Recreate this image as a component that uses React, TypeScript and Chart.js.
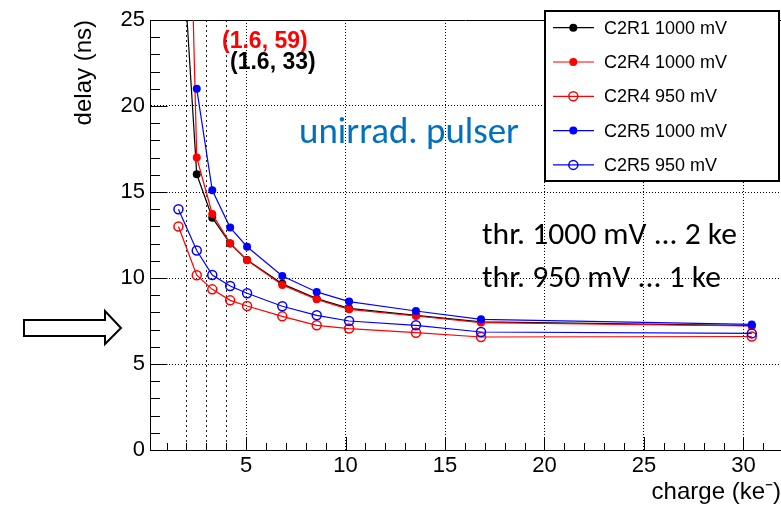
import { useEffect, useRef } from "react";
import { Chart, registerables } from "chart.js";

Chart.register(...registerables);

// ---- data ----
const charge = [1.6, 2.52, 3.3, 4.2, 5.05, 6.82, 8.55, 10.18, 13.54, 16.81, 30.42];
const delayC2R1_1000 = [33, 16.03, 13.51, 12.0, 11.05, 9.66, 8.8, 8.23, 7.83, 7.45, 7.23];
const delayC2R4_1000 = [59, 17.0, 13.72, 12.02, 11.03, 9.6, 8.76, 8.18, 7.79, 7.41, 7.21];
const delayC2R4_950 = [12.99, 10.16, 9.34, 8.7, 8.37, 7.77, 7.25, 7.06, 6.82, 6.57, 6.6];
const delayC2R5_1000 = [null, 21.0, 15.1, 12.93, 11.82, 10.12, 9.19, 8.63, 8.08, 7.6, 7.3];
const delayC2R5_950 = [14.0, 11.6, 10.17, 9.53, 9.11, 8.36, 7.83, 7.5, 7.25, 6.86, 6.78];

const seriesLabels = ["C2R1 1000 mV", "C2R4 1000 mV", "C2R4 950 mV", "C2R5 1000 mV", "C2R5 950 mV"];
const seriesColors = ["#000000", "#ff0000", "#ff0000", "#0000ff", "#0000ff"];
const seriesOpen = [false, false, true, false, true];
const seriesDelays = [delayC2R1_1000, delayC2R4_1000, delayC2R4_950, delayC2R5_1000, delayC2R5_950];

const thresholdLines = [2, 3, 4];
const xRange = [0.17, 31.89];
const yRange = [0, 25];
const majorStep = 5;

const xTitle = "charge (ke\u207B)";
const yTitle = "delay (ns)";
const offScaleNotes = [
  { text: "(1.6, 59)", color: "#ff0000" },
  { text: "(1.6, 33)", color: "#000000" },
];
const mainNote = "unirrad. pulser";
const thrNotes = ["thr. 1000 mV ... 2 ke", "thr. 950 mV ... 1 ke"];

const FONT = "'Liberation Sans', Arial, sans-serif";

function line(ctx: CanvasRenderingContext2D, x1: number, y1: number, x2: number, y2: number) {
  ctx.beginPath();
  ctx.moveTo(x1, y1);
  ctx.lineTo(x2, y2);
  ctx.stroke();
}

function drawMarker(ctx: CanvasRenderingContext2D, x: number, y: number, color: string, open: boolean) {
  ctx.beginPath();
  if (open) {
    ctx.arc(x, y, 4.5, 0, Math.PI * 2);
    ctx.lineWidth = 1.5;
    ctx.strokeStyle = color;
    ctx.stroke();
  } else {
    ctx.arc(x, y, 4, 0, Math.PI * 2);
    ctx.fillStyle = color;
    ctx.fill();
  }
}

const overlayPlugin = {
  id: "rootOverlay",
  beforeDatasetsDraw(chart: any) {
    const { ctx, chartArea: a, scales } = chart;
    const x = scales.x;
    const y = scales.y;
    ctx.save();
    // threshold dashed lines
    ctx.strokeStyle = "#222";
    ctx.lineWidth = 1;
    ctx.setLineDash([2, 3]);
    for (const v of thresholdLines) {
      const px = Math.round(x.getPixelForValue(v)) + 0.5;
      line(ctx, px, a.top, px, a.bottom);
    }
    ctx.setLineDash([]);
    // top frame
    ctx.strokeStyle = "#000";
    line(ctx, a.left, Math.round(a.top) + 0.5, a.right, Math.round(a.top) + 0.5);
    // inward ticks x
    for (let v = Math.ceil(xRange[0]); v <= xRange[1]; v++) {
      const px = Math.round(x.getPixelForValue(v)) + 0.5;
      const len = v % majorStep === 0 ? 13 : 7;
      line(ctx, px, a.bottom, px, a.bottom - len);
    }
    // inward ticks y
    for (let v = yRange[0]; v <= yRange[1]; v++) {
      const py = Math.round(y.getPixelForValue(v)) + 0.5;
      const len = v % majorStep === 0 ? 17.5 : 10;
      line(ctx, a.left, py, a.left + len, py);
    }
    ctx.restore();
  },
  afterDraw(chart: any) {
    const { ctx } = chart;
    ctx.save();
    // legend box
    ctx.fillStyle = "#fff";
    ctx.fillRect(544, 10, 235, 171);
    ctx.strokeStyle = "#000";
    ctx.lineWidth = 2;
    ctx.strokeRect(545, 11, 234, 170);
    chart.data.datasets.forEach((ds: any, i: number) => {
      const ry = 27.7 + i * 34.3;
      ctx.strokeStyle = ds.borderColor;
      ctx.lineWidth = 1.2;
      line(ctx, 553, ry, 594, ry);
      drawMarker(ctx, 573.3, ry, ds.borderColor, seriesOpen[i]);
      ctx.fillStyle = "#000";
      ctx.font = `18px ${FONT}`;
      ctx.textAlign = "left";
      ctx.textBaseline = "middle";
      ctx.fillText(ds.label, 604, ry + 1);
    });

    // off-scale notes
    ctx.textBaseline = "alphabetic";
    ctx.textAlign = "left";
    const notePos = [
      { x: 222, y: 47.5 },
      { x: 230, y: 69 },
    ];
    offScaleNotes.forEach((n, i) => {
      ctx.font = `bold 23px ${FONT}`;
      ctx.fillStyle = n.color;
      ctx.fillText(n.text, notePos[i].x, notePos[i].y);
    });

    // main note
    const fam = "Carlito, Lato, sans-serif";
    ctx.font = `100px ${fam}`;
    const s1 = (100 * 220) / ctx.measureText(mainNote).width;
    ctx.font = `${s1.toFixed(2)}px ${fam}`;
    ctx.fillStyle = "#0070C0";
    ctx.fillText(mainNote, 299, 143);

    ctx.font = `100px ${fam}`;
    const s2 = (100 * 255) / ctx.measureText(thrNotes[0]).width;
    ctx.font = `${s2.toFixed(2)}px ${fam}`;
    ctx.fillStyle = "#000";
    ctx.fillText(thrNotes[0], 482, 243.5);
    ctx.fillText(thrNotes[1], 482, 287);

    // arrow
    ctx.beginPath();
    ctx.moveTo(24, 320);
    ctx.lineTo(105, 320);
    ctx.lineTo(105, 311);
    ctx.lineTo(121, 328);
    ctx.lineTo(105, 344);
    ctx.lineTo(105, 336);
    ctx.lineTo(24, 336);
    ctx.closePath();
    ctx.fillStyle = "#fff";
    ctx.fill();
    ctx.lineWidth = 2;
    ctx.strokeStyle = "#000";
    ctx.lineJoin = "miter";
    ctx.stroke();
    ctx.restore();
  },
};

export default function App() {
  const ref = useRef<HTMLCanvasElement | null>(null);

  useEffect(() => {
    if (!ref.current) return;
    const datasets = seriesLabels.map((label, i) => {
      const color = seriesColors[i];
      const open = seriesOpen[i];
      return {
        label,
        data: charge.map((c, k) => ({ x: c, y: seriesDelays[i][k] })),
        showLine: true,
        borderColor: color,
        backgroundColor: color,
        borderWidth: 1.2,
        tension: 0,
        pointRadius: open ? 4.5 : 4,
        pointHoverRadius: open ? 4.5 : 4,
        pointBorderWidth: open ? 1.5 : 0,
        pointBackgroundColor: open ? "rgba(0,0,0,0)" : color,
        pointBorderColor: color,
        order: seriesLabels.length - i,
      };
    });

    const majorTicks = (scale: any) => {
      const out: any[] = [];
      for (let v = Math.ceil(scale.min / majorStep) * majorStep; v <= scale.max + 1e-9; v += majorStep) {
        out.push({ value: v });
      }
      scale.ticks = out;
    };

    const chart = new Chart(ref.current, {
      type: "scatter",
      data: { datasets } as any,
      options: {
        animation: false,
        responsive: false,
        devicePixelRatio: 1,
        layout: { autoPadding: false, padding: { top: 20, left: 0, right: 0, bottom: 0 } },
        plugins: { legend: { display: false }, tooltip: { enabled: false } },
        scales: {
          x: {
            type: "linear",
            min: xRange[0],
            max: xRange[1],
            afterBuildTicks: majorTicks,
            afterFit: (s: any) => {
              s.height = 55;
            },
            ticks: {
              stepSize: majorStep,
              autoSkip: false,
              maxRotation: 0,
              padding: 3,
              color: "#000",
              font: { family: FONT, size: 22 },
            },
            grid: { color: "#000", lineWidth: 1, drawTicks: false },
            border: { display: true, color: "#000", width: 1, dash: [1, 2] },
            title: {
              display: true,
              text: xTitle,
              align: "end",
              color: "#000",
              font: { family: FONT, size: 24, lineHeight: 1 },
              padding: { top: 0, bottom: 0.5 },
            },
          },
          y: {
            type: "linear",
            min: yRange[0],
            max: yRange[1],
            afterBuildTicks: majorTicks,
            afterFit: (s: any) => {
              s.width = 150;
            },
            ticks: {
              stepSize: majorStep,
              autoSkip: false,
              padding: 5,
              color: "#000",
              font: { family: FONT, size: 22 },
            },
            grid: { color: "#000", lineWidth: 1, drawTicks: false },
            border: { display: true, color: "#000", width: 1, dash: [1, 2] },
            title: {
              display: true,
              text: yTitle,
              align: "end",
              color: "#000",
              font: { family: FONT, size: 24, lineHeight: 1 },
              padding: { top: 72, bottom: 0 },
            },
          },
        },
      } as any,
      plugins: [overlayPlugin],
    });
    return () => chart.destroy();
  }, []);

  return (
    <div style={{ position: "fixed", left: 0, top: 0, width: 781, height: 505, background: "#fff" }}>
      <canvas ref={ref} width={781} height={505} style={{ display: "block" }} />
    </div>
  );
}
